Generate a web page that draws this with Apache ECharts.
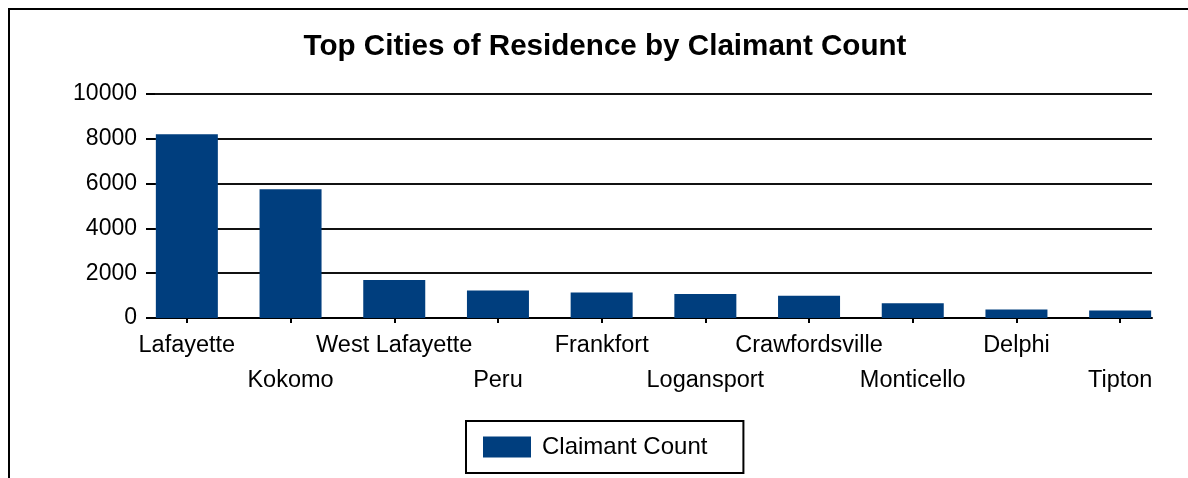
<!DOCTYPE html>
<html lang="en">

<head>
    <meta charset="UTF-8">
    <title>Top Cities of Residence by Claimant Count</title>
    <script src="https://cdnjs.cloudflare.com/ajax/libs/echarts/6.0.0/echarts.min.js"></script>
    <style>
        body { margin: 0; background: #fff; }
    </style>
</head>

<body>
    <div id="main" style="width: 1188px;height:478px;"></div>

    <script>
        // data
        const cities = ['Lafayette', 'Kokomo', 'West Lafayette', 'Peru', 'Frankfort',
            'Logansport', 'Crawfordsville', 'Monticello', 'Delphi', 'Tipton'];
        const claimantCount = [8200, 5750, 1700, 1230, 1140, 1070, 990, 660, 380, 340];
        const seriesName = 'Claimant Count';
        const yMin = 0, yMax = 10000, yStep = 2000;

        const myChart = echarts.init(document.getElementById('main'));
        const font = '"Liberation Sans", Arial, sans-serif';

        let option = {
            animation: false,
            backgroundColor: '#fff',
            title: {
                text: 'Top Cities of Residence by Claimant Count',
                left: 600, textAlign: 'center', top: 27,
                textStyle: { fontFamily: font, fontSize: 29.6, fontWeight: 'bold', color: '#000' }
            },
            graphic: [{
                type: 'rect', z: -1,
                shape: { x: 9, y: 9, width: 1400, height: 700 },
                style: { fill: 'none', stroke: '#000', lineWidth: 2 }
            }],
            legend: {
                data: [seriesName],
                left: 466, top: 421,
                icon: 'rect', itemWidth: 48, itemHeight: 21,
                padding: [14, 36, 14, 17],
                borderColor: '#000', borderWidth: 2,
                textStyle: { fontFamily: font, fontSize: 24, color: '#000', padding: [0, 0, 0, 6] }
            },
            grid: [
                // frame for gridlines / axis line
                { left: 155, right: 36, top: 94, bottom: 160, outerBoundsMode: 'none' },
                // bars laid out on a wider band
                { left: 135, right: 16, top: 94, bottom: 160, outerBoundsMode: 'none' }
            ],
            xAxis: [
                {
                    gridIndex: 0, type: 'value', min: 0, max: 1,
                    axisLine: { show: true, lineStyle: { color: '#000', width: 2 } },
                    axisTick: { show: false }, axisLabel: { show: false }, splitLine: { show: false }
                },
                {
                    gridIndex: 1, type: 'category', data: cities,
                    axisLine: { show: false },
                    axisTick: { show: true, alignWithLabel: true, length: 5, lineStyle: { color: '#000', width: 2 } },
                    axisLabel: {
                        interval: 0, margin: 10, fontFamily: font, fontSize: 23.5, color: '#000',
                        lineHeight: 35,
                        formatter: (v, i) => (i % 2 ? '\n' + v : v)
                    }
                }
            ],
            yAxis: [
                {
                    gridIndex: 0, type: 'value', min: yMin, max: yMax, interval: yStep,
                    axisLine: { show: false },
                    axisTick: { show: true, length: 9, lineStyle: { color: '#000', width: 2 } },
                    axisLabel: { margin: 18, fontFamily: font, fontSize: 23, color: '#000', formatter: (v) => String(v) },
                    splitLine: { lineStyle: { color: '#111', width: 2 } }
                },
                {
                    gridIndex: 1, type: 'value', min: yMin, max: yMax, interval: yStep, show: false
                }
            ],
            series: [
                {
                    name: seriesName,
                    type: 'bar',
                    xAxisIndex: 1, yAxisIndex: 1,
                    barWidth: 62,
                    itemStyle: { color: '#003e7e' },
                    data: claimantCount
                }
            ]
        };

        myChart.setOption(option);
    </script>
</body>

</html>
